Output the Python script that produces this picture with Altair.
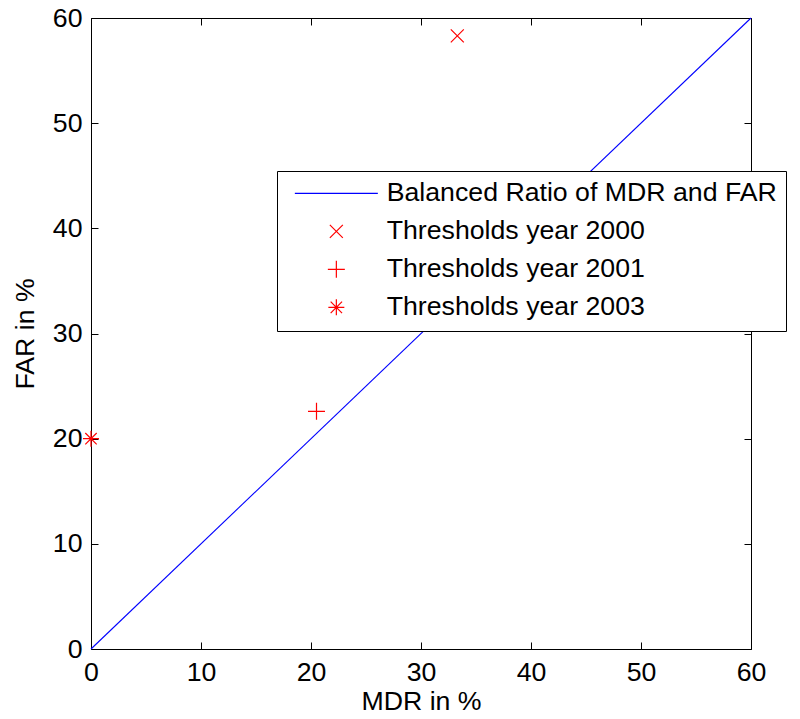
import altair as alt
import pandas as pd

# ---- data ----
line_mdr = [0, 60]
line_far = [0, 60]
line_name = "Balanced Ratio of MDR and FAR"

series = ["Thresholds year 2000", "Thresholds year 2001", "Thresholds year 2003"]
pt_mdr = [33.3, 20.5, 0.0]
pt_far = [58.3, 22.6, 20.0]

ticks = [0, 10, 20, 30, 40, 50, 60]

legend_domain = [line_name] + series
legend_colors = ["#0000FF", "#FF0000", "#FF0000", "#FF0000"]
legend_shapes = [
    "M-4.15,0L4.15,0",
    "M-0.65,-0.65L0.65,0.65M-0.65,0.65L0.65,-0.65",
    "M-0.85,0L0.85,0M0,-0.85L0,0.85",
    "M-0.8,0L0.8,0M0,-0.8L0,0.8M-0.57,-0.57L0.57,0.57M-0.57,0.57L0.57,-0.57",
]

line_df = pd.DataFrame({"MDR": line_mdr, "FAR": line_far})
pt_df = pd.DataFrame({"MDR": pt_mdr, "FAR": pt_far, "series": series})

W, H = 660, 631
FONT = "Liberation Sans"
FS = 26.7

xscale = alt.Scale(domain=[0, 60], nice=False)
yscale = alt.Scale(domain=[0, 60], nice=False)

# main axes: labels, no ticks
main_x = alt.Axis(values=ticks, title="MDR in %", tickSize=0, domain=False, grid=False,
                  labelPadding=10, titlePadding=3, format="d", labelFlush=False)
main_y = alt.Axis(values=ticks, title="FAR in %", tickSize=0, domain=False, grid=False,
                  labelPadding=9, titlePadding=13, format="d", labelFlush=False)

def tick_axis(orient, offset):
    return alt.Axis(values=ticks, orient=orient, offset=offset, labels=False, title=None,
                    tickSize=7, domain=False, grid=False, tickColor="black", tickWidth=1)

line = alt.Chart(line_df).mark_line(color="#0000FF", strokeWidth=1.1).encode(
    x=alt.X("MDR:Q", scale=xscale, axis=main_x),
    y=alt.Y("FAR:Q", scale=yscale, axis=main_y),
)

points = alt.Chart(pt_df).mark_point(filled=False, size=400, strokeWidth=1.2, opacity=1).encode(
    x=alt.X("MDR:Q", scale=xscale, axis=tick_axis("top", -H)),
    y=alt.Y("FAR:Q", scale=yscale, axis=tick_axis("right", -W)),
    color=alt.Color("series:N", scale=alt.Scale(domain=legend_domain, range=legend_colors),
                    legend=alt.Legend(title=None, orient="none", legendX=186, legendY=153)),
    shape=alt.Shape("series:N", scale=alt.Scale(domain=legend_domain, range=legend_shapes),
                    legend=alt.Legend(title=None, orient="none", legendX=186, legendY=153)),
)

ticks_layer = alt.Chart(line_df).mark_line(strokeOpacity=0).encode(
    x=alt.X("MDR:Q", scale=xscale, axis=tick_axis("bottom", -H)),
    y=alt.Y("FAR:Q", scale=yscale, axis=tick_axis("left", -W)),
)

chart = alt.layer(line, ticks_layer, points).resolve_axis(
    x="independent", y="independent"
).properties(
    width=W, height=H, padding={"left": 12, "top": 5, "right": 3, "bottom": 3}
).configure_view(
    stroke="black", strokeWidth=1
).configure_axis(
    labelFont=FONT, labelFontSize=FS, labelColor="black", labelFontWeight="normal",
    titleFont=FONT, titleFontSize=FS, titleColor="black", titleFontWeight="normal",
).configure_legend(
    labelFont=FONT, labelFontSize=FS, labelColor="black", labelLimit=0,
    strokeColor="black", fillColor="white", padding=9, cornerRadius=0,
    symbolSize=400, symbolStrokeWidth=1.2, symbolOffset=37, labelOffset=37,
    rowPadding=10,
)

chart.save("out.html", embed_options={"renderer": "svg", "actions": False})
